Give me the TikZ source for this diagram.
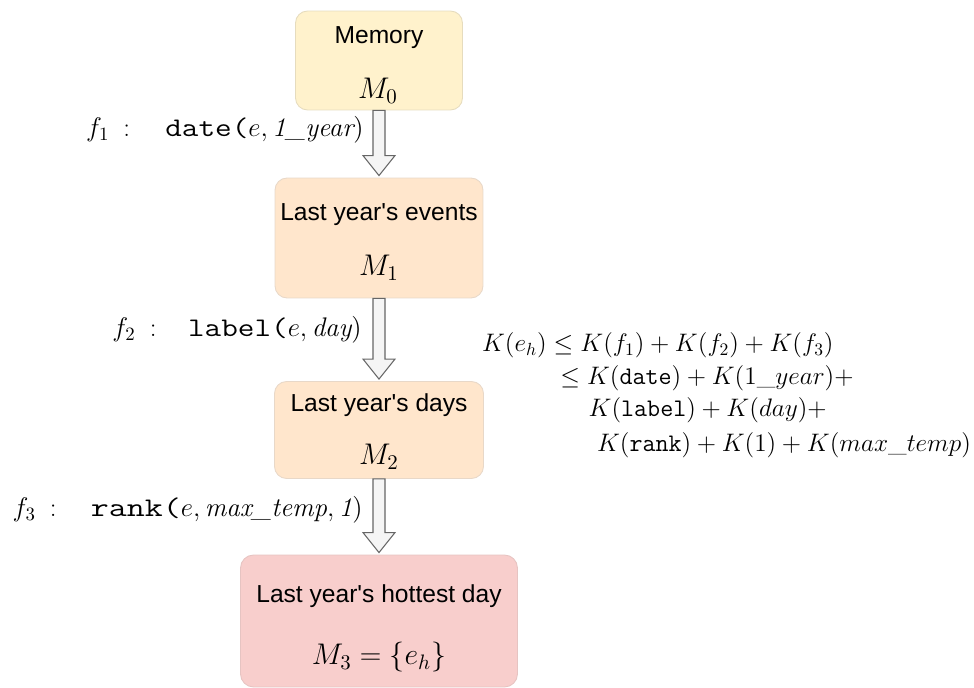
\RequirePackage{fix-cm}
\documentclass[tikz,border=0pt]{standalone}
\usepackage{amsmath,amssymb}
\usepackage{graphicx}
\usepackage{fontspec}
\newfontfamily\arialfont{Liberation Sans}
\usepackage{tikz}
\usetikzlibrary{calc}

\definecolor{memyellow}{HTML}{FFF2CC}
\definecolor{memyellowline}{HTML}{E6DCBE}
\definecolor{mempeach}{HTML}{FFE6CC}
\definecolor{mempeachline}{HTML}{E8D8C8}
\definecolor{memred}{HTML}{F8CECC}
\definecolor{memredline}{HTML}{E6C4C2}
\definecolor{arrowline}{HTML}{666666}
\definecolor{arrowfill}{HTML}{F5F5F5}

% hollow block arrow from the bottom of one box to the top of the next
\newcommand{\blockarrow}[2]{%
	\draw[blockarrow] ($(#1.south)+(-6,0)$) -- ($(#2.north)+(-6,-22)$) -- ($(#2.north)+(-16,-22)$)
		-- ($(#2.north)+(0,-2)$) -- ($(#2.north)+(16,-22)$) -- ($(#2.north)+(6,-22)$)
		-- ($(#1.south)+(6,0)$) -- cycle;}
% wide typewriter name of a step
\newcommand{\widett}[2]{\scalebox{#1}[1]{\texttt{#2}}}

\begin{document}
\begin{tikzpicture}[x=0.02cm, y=-0.02cm,
		membox/.style={rectangle, rounded corners=0.24cm, line width=0.5pt, inner sep=0pt},
		boxtitle/.style={anchor=base, inner sep=0pt, font=\arialfont\fontsize{14}{17}\selectfont},
		boxmath/.style={anchor=base, inner sep=0pt, font=\fontsize{17}{20}\selectfont},
		stepfn/.style={anchor=base east, inner sep=0pt, font=\fontsize{15.3}{18}\selectfont},
		eqline/.style={anchor=base west, inner sep=0pt, font=\fontsize{14.4}{17}\selectfont},
		blockarrow/.style={draw=arrowline, fill=arrowfill, line width=0.6pt, line join=miter}]
	\useasboundingbox (0,0) rectangle (974,688);

	% memories
	\node[membox, fill=memyellow, draw=memyellowline, minimum width=3.34cm, minimum height=1.98cm] (m0) at (379,60.5) {};
	\node[membox, fill=mempeach, draw=mempeachline, minimum width=4.16cm, minimum height=2.4cm] (m1) at (379,238) {};
	\node[membox, fill=mempeach, draw=mempeachline, minimum width=4.18cm, minimum height=1.94cm] (m2) at (379,430) {};
	\node[membox, fill=memred, draw=memredline, rounded corners=0.26cm, minimum width=5.54cm, minimum height=2.64cm] (m3) at (379,621) {};

	\node[boxtitle] (m0t) at (379,44) {Memory};
	\node[boxmath] (m0m) at (378,99) {$M_0$};
	\node[boxtitle] (m1t) at (379,220.7) {Last year's events};
	\node[boxmath] (m1m) at (379,276) {$M_1$};
	\node[boxtitle] (m2t) at (379,411.7) {Last year's days};
	\node[boxmath] (m2m) at (379,465) {$M_2$};
	\node[boxtitle] (m3t) at (379,602.7) {Last year's hottest day};
	\node[boxmath] (m3m) at (379,665) {$M_3 = \{e_h\}$};

	% steps
	\blockarrow{m0}{m1}
	\blockarrow{m1}{m2}
	\blockarrow{m2}{m3}

	\node[stepfn] (f1) at (364,136.7) {$f_1$\hspace{8pt}:\hspace{20pt}\widett{1.2}{date(}$e, \textit{1\_year})$};
	\node[stepfn] (f2) at (362,336.7) {$f_2$\hspace{8pt}:\hspace{18pt}\widett{1.2}{label(}$e, \textit{day})$};
	\node[stepfn] (f3) at (363,516.7) {$f_3$\hspace{8pt}:\hspace{19.5pt}\widett{1.3}{rank(}$e, \textit{max\_temp}, \textit{1})$};

	% bound
	\node[eqline] (eq1) at (481.7,351.7) {$K(e_h) \leq K(f_1) + K(f_2) + K(f_3)$};
	\node[eqline] (eq2) at (560,385) {$\leq K(\texttt{date}) + K(1\_year)+$};
	\node[eqline] (eq3) at (588.3,416.7) {$K(\texttt{label}) + K(day)+$};
	\node[eqline] (eq4) at (596.7,451.7) {$K(\texttt{rank}) + K(1) + K(max\_temp)$};
\end{tikzpicture}
\end{document}
